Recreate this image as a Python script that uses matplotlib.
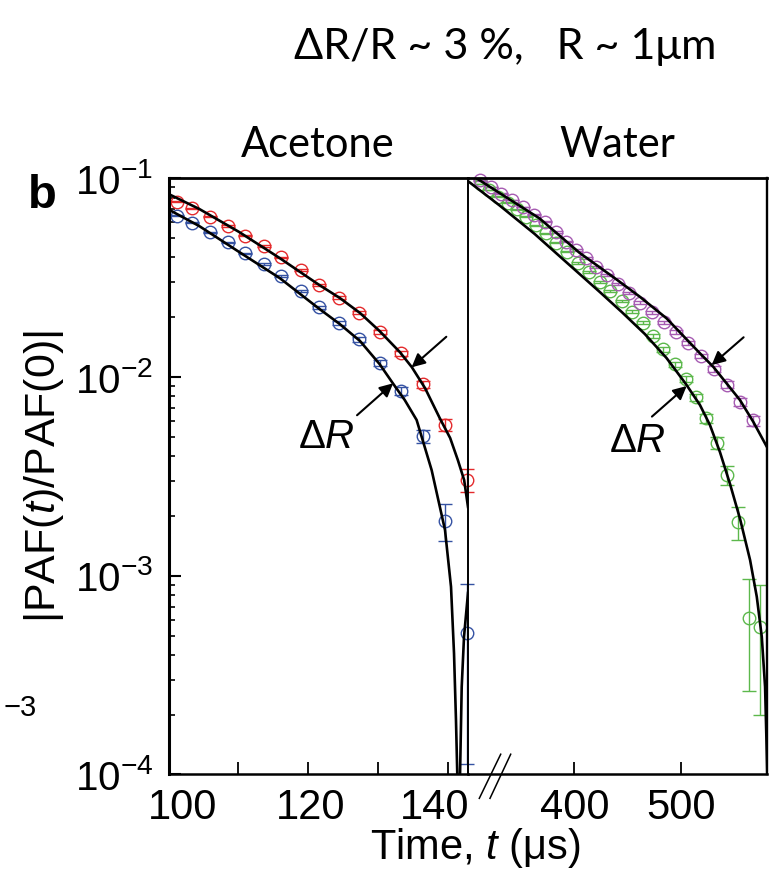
import numpy as np
import matplotlib
matplotlib.use("Agg")
import matplotlib.pyplot as plt
import matplotlib.transforms as mtransforms
from matplotlib.ticker import LogLocator, NullFormatter

plt.rcParams['font.family'] = ['Liberation Sans Narrow', 'Liberation Sans', 'DejaVu Sans']
plt.rcParams['mathtext.fontset'] = 'custom'
plt.rcParams['mathtext.rm'] = 'Liberation Sans'
plt.rcParams['mathtext.it'] = 'Liberation Sans:italic'
plt.rcParams['axes.unicode_minus'] = True

# ---- acetone (left panel) ----
t_acetone = [101.2, 103.4, 105.9, 108.5, 111.0, 113.6, 116.1, 118.9, 121.5, 124.4,
             127.3, 130.2, 133.3, 136.4, 139.6, 142.75]
red_y = [0.0762, 0.0706, 0.0641, 0.0575, 0.0514, 0.0456, 0.0400, 0.0346, 0.0290, 0.0251,
         0.0211, 0.0169, 0.01316, 0.00919, 0.00573, 0.00303]
blue_y = [0.0648, 0.0598, 0.0535, 0.0476, 0.0419, 0.0370, 0.0322, 0.0271, 0.0224, 0.01877,
          0.01547, 0.01180, 0.00853, 0.00503, 0.00189, 0.000513]
err_acetone = 0.0004

red_fit_t = [100.0, 104.4, 110.1, 115.9, 121.6, 124.5, 127.4, 130.2, 133.1, 134.8,
             136.7, 138.8, 140.3, 141.4, 142.3, 142.85]
red_fit_y = [0.0834, 0.0701, 0.0537, 0.0397, 0.0290, 0.0250, 0.0210, 0.01704, 0.01335, 0.01123,
             0.00880, 0.00622, 0.00493, 0.00382, 0.00303, 0.00222]
blue_fit_t = [100.0, 104.4, 110.1, 115.9, 121.6, 124.5, 127.4, 130.2, 132.1, 133.8,
              135.5, 137.65, 139.56, 140.42, 140.85, 141.13, 141.32, 141.51, 141.71, 141.95,
              142.28, 142.85]
blue_fit_y = [0.0697, 0.0575, 0.0426, 0.0315, 0.0220, 0.01848, 0.01518, 0.01162, 0.00930, 0.00766,
              0.00608, 0.00340, 0.00170, 0.000880, 0.000407, 0.000188, 0.0000993, 1e-6, 0.0000993, 0.000276,
              0.000493, 0.00082]

# ---- water (right panel) ----
purple_t = [311.5, 321.2, 331.1, 341.0, 351.3, 361.7, 372.0, 382.4, 392.5, 401.9,
            411.3, 420.7, 430.7, 441.1, 451.4, 462.1, 473.1, 484.4, 495.4, 506.4,
            518.6, 531.2, 543.1, 555.6, 568.2]
purple_y = [0.0975, 0.0904, 0.0838, 0.0777, 0.0717, 0.0657, 0.0603, 0.0537, 0.0480, 0.0436,
            0.0396, 0.0359, 0.0326, 0.0294, 0.0264, 0.0237, 0.0212, 0.01886, 0.0168, 0.01478,
            0.01276, 0.01097, 0.00915, 0.00751, 0.00605]
green_t = [312.4, 320.2, 328.1, 337.5, 346.0, 354.8, 364.2, 373.6, 383.1, 393.4,
           403.4, 413.7, 423.8, 433.9, 444.3, 454.2, 464.0, 473.4, 483.4, 494.4,
           504.8, 514.2, 523.6, 533.7, 543.7, 554.0, 564.4, 574.5]
green_y = [0.0936, 0.0873, 0.0808, 0.0754, 0.0698, 0.0641, 0.0582, 0.0529, 0.0474, 0.0427,
           0.0376, 0.0339, 0.0302, 0.0272, 0.0242, 0.0213, 0.01877, 0.01607, 0.01378, 0.01162,
           0.00977, 0.00790, 0.00619, 0.00467, 0.00321, 0.00187, 0.000614, 0.000550]
err_water = 0.00035

purple_fit_t = [300.2, 329.7, 367.3, 405.0, 439.5, 461.5, 486.6, 518.0, 530.5, 555.6,
                568.2, 580.8, 581.5]
purple_fit_y = [0.1064, 0.0843, 0.0628, 0.0421, 0.0310, 0.02535, 0.01974, 0.01316, 0.01126, 0.00766,
                0.00594, 0.00446, 0.0044]
green_fit_t = [300.2, 329.7, 362.6, 392.7, 423.8, 444.5, 466.2, 486.6, 504.8, 518.0,
               527.4, 536.8, 546.3, 555.7, 565.1, 571.4, 576.1, 579.2, 580.8, 581.5]
green_fit_y = [0.0966, 0.0730, 0.0525, 0.0377, 0.0268, 0.02124, 0.01646, 0.01246, 0.00922, 0.00723,
               0.00573, 0.00419, 0.00289, 0.00193, 0.0012, 0.000784, 0.000493, 0.000276, 0.000128, 0.00009]

left_xticks = [110, 120, 130, 140]
left_xticklabels = ['', '120', '', '140']
right_xticks = [400, 500]
yticks = [1e-4, 1e-3, 1e-2, 1e-1]

RED = '#e42a2c'
BLUE = '#3552a3'
GREEN = '#5cb84c'
PURPLE = '#a65bb2'

fig = plt.figure(figsize=(7.76, 8.73), dpi=100)
ax1 = fig.add_axes([0.21714, 0.11283, 0.38595, 0.68293])
ax2 = fig.add_axes([0.60309, 0.11283, 0.38531, 0.68293])
ax1.set_zorder(3)
ax1.patch.set_visible(False)


def draw_points(ax, t, y, err, color):
    cont = ax.errorbar(t, y, yerr=err, fmt='o', ms=9, mfc='none', mec=color, mew=1.0,
                       ecolor=color, elinewidth=1.0, capsize=5, capthick=1.0, zorder=2)
    for art in cont.get_children():
        art.set_clip_on(False)


draw_points(ax1, t_acetone, red_y, err_acetone, RED)
draw_points(ax1, t_acetone, blue_y, err_acetone, BLUE)
ax1.plot(red_fit_t, red_fit_y, color='k', lw=1.9, zorder=3)
ax1.plot(blue_fit_t, blue_fit_y, color='k', lw=1.9, zorder=3)

draw_points(ax2, green_t, green_y, err_water, GREEN)
draw_points(ax2, purple_t, purple_y, err_water, PURPLE)
ax2.plot(purple_fit_t, purple_fit_y, color='k', lw=1.9, zorder=3)
ax2.plot(green_fit_t, green_fit_y, color='k', lw=1.9, zorder=3)

for ax in (ax1, ax2):
    ax.set_yscale('log')
    ax.set_ylim(1e-4, 1e-1)
    ax.spines['top'].set_linewidth(2.0)
    ax.spines['bottom'].set_linewidth(1.8)
    ax.tick_params(axis='x', direction='in', length=8.5, width=1.3, labelsize=30, pad=10)

ax1.set_xlim(100, 142.85)
ax2.set_xlim(300, 581)

ax1.spines['left'].set_linewidth(2.2)
ax1.spines['right'].set_linewidth(1.4)
ax2.spines['left'].set_visible(False)
ax2.spines['right'].set_linewidth(1.7)

ax1.set_yticks(yticks)
ax1.yaxis.set_minor_locator(LogLocator(base=10, subs=np.arange(2, 10)))
ax1.yaxis.set_minor_formatter(NullFormatter())
ax1.tick_params(axis='y', which='major', direction='in', length=8.5, width=1.5, labelsize=29, pad=11)
ax1.tick_params(axis='y', which='minor', direction='in', length=4.5, width=1.2)
ax2.tick_params(axis='y', which='both', left=False, labelleft=False)

ax1.set_xticks(left_xticks)
ax1.set_xticklabels(left_xticklabels)
ax2.set_xticks(right_xticks)
ax2.set_xticklabels([str(v) for v in right_xticks])

# 100 label sits at the spine, shifted a bit to the right like the original
ax1.text(100, 0, '100', transform=mtransforms.blended_transform_factory(ax1.transData, ax1.transAxes)
         + mtransforms.ScaledTranslation(10 / 72, -10 / 72, fig.dpi_scale_trans),
         ha='center', va='top', fontsize=30)
for lab, dx in zip(ax1.get_xticklabels(), [0, 2, 0, -10]):
    lab.set_transform(lab.get_transform() + mtransforms.ScaledTranslation(dx / 72, 0, fig.dpi_scale_trans))

ax1.set_title('Acetone', family=['Lato', 'DejaVu Sans'], fontsize=30, pad=15)
ax2.set_title('Water', family=['Lato', 'DejaVu Sans'], fontsize=30, pad=15)

ax1.set_ylabel('|PAF($t$)/PAF(0)|', fontsize=31, labelpad=6)
fig.text(0.6122, 0.016, 'Time, $t$ (\u03bcs)', ha='center', va='baseline', fontsize=30)

arrow = dict(arrowstyle='-|>', color='k', lw=1.5, mutation_scale=20, shrinkA=0, shrinkB=0)
ax1.annotate('', xy=(134.78, 0.01119), xytext=(25, 22), textcoords='offset points', arrowprops=arrow)
ax1.annotate('', xy=(132.14, 0.00930), xytext=(-26, -23), textcoords='offset points', arrowprops=arrow)
ax2.annotate('', xy=(529.0, 0.01149), xytext=(23, 20), textcoords='offset points', arrowprops=arrow)
ax2.annotate('', xy=(505.5, 0.00901), xytext=(-25, -22), textcoords='offset points', arrowprops=arrow)
ax1.text(122.6, 0.00499, r'$\Delta R$', ha='center', va='center', fontsize=29)
ax2.text(459.6, 0.00476, r'$\Delta R$', ha='center', va='center', fontsize=29)

# axis break marks
for x0, x1 in [(0.0378, 0.1094), (0.0736, 0.1428)]:
    ax2.plot([x0, x1], [-0.040, 0.034], transform=ax2.transAxes, color='k', lw=1.1, clip_on=False)

fig.text(0.6508, 0.9462, '\u0394R/R ~ 3 %,   R ~ 1\u03bcm', ha='center', va='center',
         family=['Lato', 'DejaVu Sans'], fontsize=31)
fig.text(0.036, 0.762, 'b', weight='bold', family=['Liberation Sans', 'DejaVu Sans'],
         fontsize=34, va='baseline')
fig.text(0.004, 0.189, '\u22123', ha='left', va='center', fontsize=21)

fig.savefig('out.png', dpi=100)
